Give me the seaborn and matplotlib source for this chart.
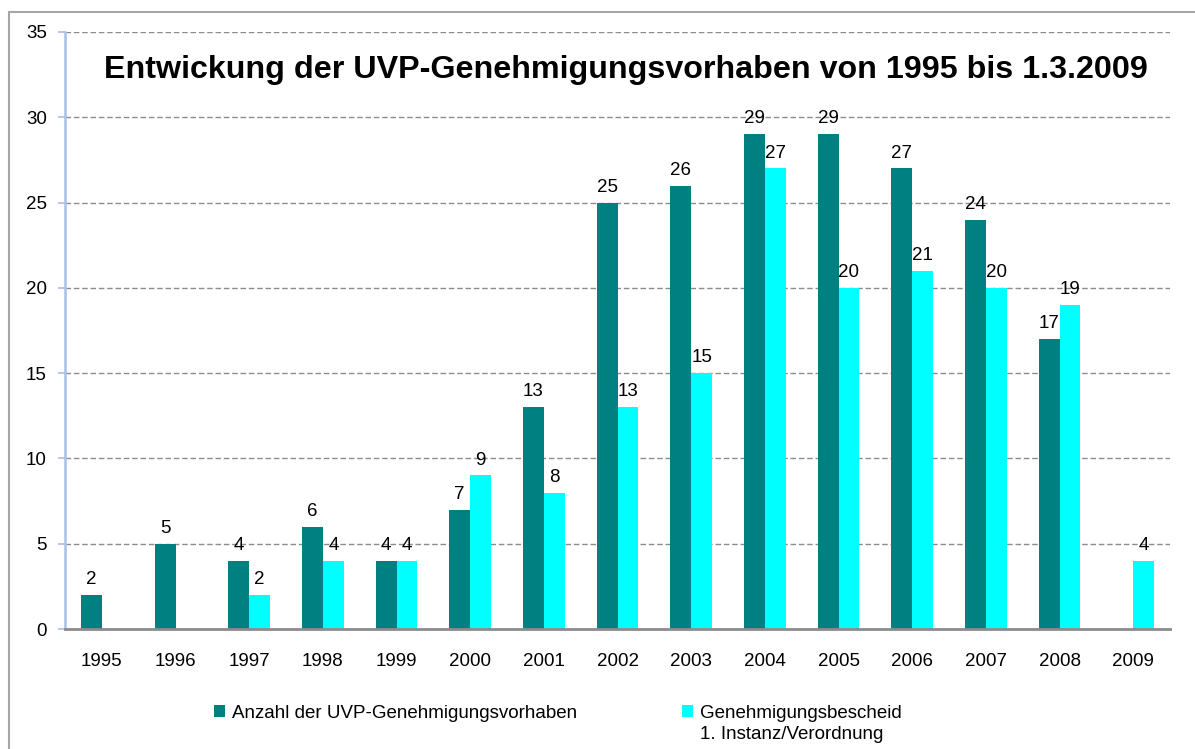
import numpy as np
import pandas as pd
import matplotlib
matplotlib.use("Agg")
import matplotlib.pyplot as plt
import seaborn as sns
from matplotlib.patches import Patch
from matplotlib.lines import Line2D

years = ["1995", "1996", "1997", "1998", "1999", "2000", "2001", "2002",
         "2003", "2004", "2005", "2006", "2007", "2008", "2009"]
vorhaben = [2, 5, 4, 6, 4, 7, 13, 25, 26, 29, 29, 27, 24, 17, None]
bescheid = [None, None, 2, 4, 4, 9, 8, 13, 15, 27, 20, 21, 20, 19, 4]
series = ["Anzahl der UVP-Genehmigungsvorhaben",
          "Genehmigungsbescheid\n1. Instanz/Verordnung"]
colors = ["#008080", "#00FFFF"]
title = "Entwickung der UVP-Genehmigungsvorhaben von 1995 bis 1.3.2009"

rows = []
for y, a, b in zip(years, vorhaben, bescheid):
    if a is not None:
        rows.append((y, series[0], a))
    if b is not None:
        rows.append((y, series[1], b))
df = pd.DataFrame(rows, columns=["Jahr", "Serie", "Wert"])

sns.set_style("white")
plt.rcParams['font.family'] = ['Liberation Sans', 'DejaVu Sans']
plt.rcParams['text.color'] = 'black'
plt.rcParams['xtick.labelcolor'] = 'black'
plt.rcParams['ytick.labelcolor'] = 'black'

fs = 13.5
fig = plt.figure(figsize=(11.95, 7.49), dpi=100)
ax = fig.add_axes([65/1195, 120/749, 1105/1195, 597/749])

sns.barplot(data=df, x="Jahr", y="Wert", hue="Serie", order=years, hue_order=series,
            palette=colors, saturation=1, width=0.57, gap=0, linewidth=0,
            legend=False, ax=ax)

for c in ax.containers:
    ax.bar_label(c, fmt="%d", padding=5, fontsize=fs, color="black")

ax.set_ylim(0, 35)
ax.set_xlim(-0.5, len(years) - 0.5)
ax.set_yticks(range(0, 36, 5))
ax.set_xlabel("")
ax.set_ylabel("")
ax.yaxis.grid(True, linestyle=(0, (4, 2)), color="#8c8c8c", linewidth=1)
ax.set_axisbelow(True)
ax.set_xticks(np.arange(-0.5, len(years), 1), minor=True)
ax.tick_params(axis="x", which="major", length=0, pad=17, labelsize=fs)
ax.tick_params(axis="x", which="minor", length=6, width=1.2, color="#8c8c8c", direction="out")
ax.tick_params(axis="y", length=5, width=1.2, color="#a9c0e8", pad=8, labelsize=fs, left=True)
for s in ["top", "right"]:
    ax.spines[s].set_visible(False)
ax.spines["left"].set_color("#a9c0e8")
ax.spines["left"].set_linewidth(1.8)
ax.spines["bottom"].set_color("#8c8c8c")
ax.spines["bottom"].set_linewidth(2)

ax.text(0.508, 0.937, title, transform=ax.transAxes, ha="center", va="center",
        fontsize=23.2, fontweight="bold", color="black")

# outer frame
fig.add_artist(Line2D([9/1195, 9/1195], [0, 1 - 12/749], color="#a6a6a6", lw=1.5,
                      transform=fig.transFigure))
fig.add_artist(Line2D([9/1195, 1], [1 - 12/749, 1 - 12/749], color="#a6a6a6", lw=1.5,
                      transform=fig.transFigure))

# legend: second label's second line as a handle-less entry
lab1, lab2 = series[1].split("\n")
handles = [Patch(facecolor=colors[0], edgecolor="none"),
           Patch(facecolor="none", edgecolor="none"),
           Patch(facecolor=colors[1], edgecolor="none"),
           Patch(facecolor="none", edgecolor="none")]
labels = [series[0], " ", lab1, lab2]
fig.legend(handles, labels, loc="upper left", bbox_to_anchor=(214/1195, 1 - 705/749),
           ncol=2, frameon=False, fontsize=fs, handlelength=0.6, handleheight=0.6,
           handletextpad=0.35, columnspacing=5.6, labelspacing=0.2,
           borderaxespad=0, borderpad=0)

fig.savefig("out.png", dpi=100)
